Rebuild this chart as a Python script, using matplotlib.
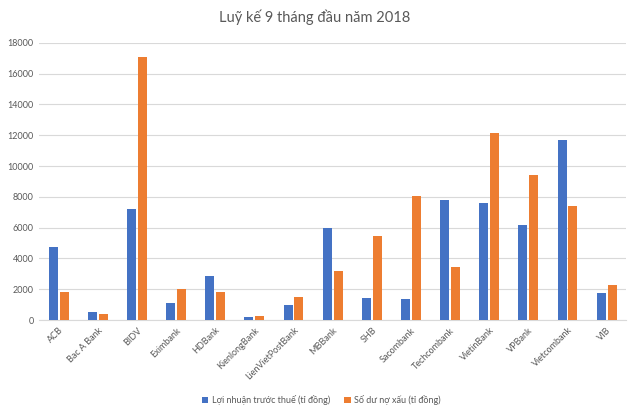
import numpy as np
import matplotlib
matplotlib.use("Agg")
import matplotlib.pyplot as plt

plt.rcParams['font.family'] = ['Lato', 'DejaVu Sans']

banks = ["ACB", "Bac A Bank", "BIDV", "Eximbank", "HDBank", "KienlongBank",
         "LienVietPostBank", "MBBank", "SHB", "Sacombank", "Techcombank",
         "VietinBank", "VPBank", "Vietcombank", "VIB"]
loi_nhuan = [4720, 540, 7210, 1080, 2880, 220, 980, 6000, 1450, 1340, 7770,
             7600, 6150, 11710, 1730]
no_xau = [1840, 390, 17060, 2010, 1800, 280, 1520, 3200, 5430, 8050, 3420,
          12170, 9390, 7420, 2250]

blue = "#4472C4"
orange = "#ED7D31"
grey = "#595959"

fig = plt.figure(figsize=(6.3, 4.2), dpi=100)
ax = fig.add_axes([0.062, 0.238, 0.932, 0.66])

x = np.arange(len(banks))
w = 0.23
ax.bar(x - 0.14, loi_nhuan, w, color=blue, label="Lợi nhuận trước thuế (tỉ đồng)", zorder=3)
ax.bar(x + 0.14, no_xau, w, color=orange, label="Số dư nợ xấu (tỉ đồng)", zorder=3)

ax.set_xlim(-0.5, len(banks) - 0.5)
ax.set_ylim(0, 18000)
ax.set_yticks(range(0, 18001, 2000))
ax.yaxis.grid(True, color="#d9d9d9", linewidth=0.8, zorder=0)
ax.set_xticks(x)
ax.set_xticklabels(banks, rotation=45, ha="right", rotation_mode="anchor")
ax.tick_params(axis="both", length=0, labelsize=6.5, colors=grey, pad=4)
for s in ["top", "right", "left"]:
    ax.spines[s].set_visible(False)
ax.spines["bottom"].set_color("#d9d9d9")

fig.text(0.5, 0.958, "Luỹ kế 9 tháng đầu năm 2018", ha="center", va="center",
         fontsize=10.5, color=grey)
fig.legend(loc="center", bbox_to_anchor=(0.51, 0.048), ncol=2, frameon=False,
           fontsize=6.5, handlelength=0.7, handleheight=0.7, columnspacing=1.6,
           handletextpad=0.4, labelcolor=grey)

fig.savefig("out.png", dpi=100)
